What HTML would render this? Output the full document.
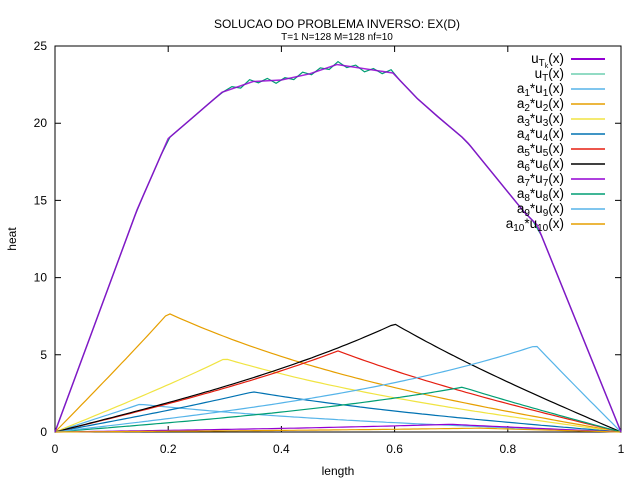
<!DOCTYPE html>
<html><head><meta charset="utf-8"><style>
body{margin:0;background:#fff;font-family:"Liberation Sans",sans-serif}
svg text{font-family:"Liberation Sans",sans-serif;fill:#000}
</style></head><body>
<svg id="c" width="640" height="480" xmlns="http://www.w3.org/2000/svg">
<text x="337" y="28" font-size="12" text-anchor="middle">SOLUCAO DO PROBLEMA INVERSO: EX(D)</text>
<text x="337" y="40" font-size="10" text-anchor="middle">T=1 N=128 M=128 nf=10</text>
<text x="338" y="475" font-size="12" text-anchor="middle">length</text>
<text x="16" y="239" font-size="12" text-anchor="middle" transform="rotate(-90 16 239)">heat</text>
<g id="axes"></g><g id="series"></g><g id="legend"></g>
</svg>
<script>
const xTicks=[0,0.2,0.4,0.6,0.8,1];
const yTicks=[0,5,10,15,20,25];
const mainX=[0,0.145,0.2,0.295,0.35,0.4,0.45,0.498,0.597,0.64,0.677,0.719,0.73,0.83,0.852,1];
const mainY=[0,14.4,19.0,22.0,22.7,22.8,23.2,23.8,23.25,21.6,20.4,19.1,18.7,14.2,13.4,0];
const wiggle=[0.15,-0.15,0.2,-0.1,0.15,-0.2,0.1,-0.15,0.2,-0.1];
const peakX=[0.15,0.2,0.3,0.35,0.5,0.6,0.7,0.72,0.85,0.75];
const peakY=[1.8,7.7,4.75,2.6,5.25,7.0,0.5,2.9,5.6,0.25];
const colors=["#56b4e9","#e69f00","#f0e442","#0072b2","#e51e10","#000000","#9400d3","#009e73","#56b4e9","#e69f00"];
const NS="http://www.w3.org/2000/svg";
const X0=55,X1=621,Y0=432,Y1=46;
const sx=v=>X0+(X1-X0)*v, sy=v=>Y0-(Y0-Y1)*v/25;
function mk(t,a,p){const e=document.createElementNS(NS,t);for(const k in a)e.setAttribute(k,a[k]);document.getElementById(p).appendChild(e);return e;}
let f=mk('rect',{x:X0,y:Y1,width:X1-X0,height:Y0-Y1,fill:'none',stroke:'#000','stroke-width':1},'axes');


xTicks.forEach(v=>{const x=sx(v);
 let l=mk('path',{d:`M${x},${Y0}v-6M${x},${Y1}v6`,stroke:'#000'},'axes');
 
 
 let t=mk('text',{x:x,y:Y0+21,'font-size':12,'text-anchor':'middle'},'axes');t.textContent=v;
 
 });
yTicks.forEach(v=>{const y=sy(v);
 let l=mk('path',{d:`M${X0},${y}h6M${X1},${y}h-6`,stroke:'#000'},'axes');
 
 
 let t=mk('text',{x:X0-8,y:y+4,'font-size':12,'text-anchor':'end'},'axes');t.textContent=v;
 
 });
function basis(x,p){const k=2;return x<=p?Math.sinh(k*x)/Math.sinh(k*p):Math.sinh(k*(1-x))/Math.sinh(k*(1-p));}
for(let i=0;i<peakX.length;i++){let d='';for(let j=0;j<=128;j++){const x=j/128;d+=(j?'L':'M')+sx(x).toFixed(1)+','+sy(peakY[i]*basis(x,peakX[i])).toFixed(1);}
 let p=mk('path',{d:d,fill:'none',stroke:colors[i],'stroke-width':1.2},'series');
 
 }
function interp(x){for(let i=1;i<mainX.length;i++)if(x<=mainX[i]){const t=(x-mainX[i-1])/(mainX[i]-mainX[i-1]);return mainY[i-1]+t*(mainY[i]-mainY[i-1]);}return 0;}
let d2='';for(let j=0;j<=64;j++){const x=j/64;let y=interp(x);if(x>0.3&&x<0.6)y+=wiggle[j%wiggle.length];d2+=(j?'L':'M')+sx(x).toFixed(1)+','+sy(y).toFixed(1);}
let ut=mk('path',{d:d2,fill:'none',stroke:'#009e73','stroke-width':1.2},'series');


let d1=mainX.map((x,i)=>(i?'L':'M')+sx(x).toFixed(1)+','+sy(mainY[i]).toFixed(1)).join('');
let uk=mk('path',{d:d1,fill:'none',stroke:'#9400d3','stroke-width':1.5,opacity:0.85},'series');


const legLabels=['u<tspan font-size="10" dy="3">T<tspan font-size="7" dy="2">k</tspan></tspan><tspan dy="-5">(x)</tspan>','u<tspan font-size="10" dy="3">T</tspan><tspan dy="-3">(x)</tspan>'];
for(let i=1;i<=10;i++)legLabels.push(`a<tspan font-size="10" dy="3">${i}</tspan><tspan dy="-3">*u</tspan><tspan font-size="10" dy="3">${i}</tspan><tspan dy="-3">(x)</tspan>`);
const legColors=['#9400d3','#6fcfb0'].concat(colors);
legLabels.forEach((s,i)=>{const y=59+i*15;
 let t=mk('text',{x:564,y:y+4,'font-size':13.5,'text-anchor':'end'},'legend');t.innerHTML=s;
 
 
 let l=mk('line',{x1:571,x2:605,y1:y,y2:y,stroke:legColors[i],'stroke-width':i==0?2:1.5},'legend');
 
 });
</script>
</body></html>
